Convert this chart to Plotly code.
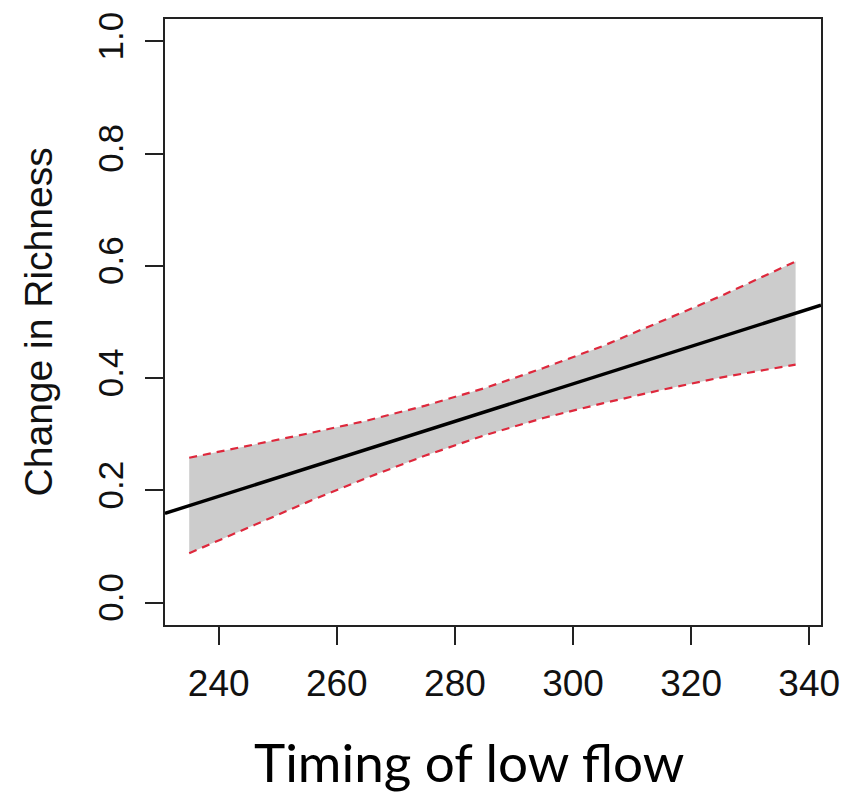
import plotly.graph_objects as go

# Data
band_x = [235, 245, 255, 265, 275, 285, 295, 305, 315, 325, 337.7]
band_upper = [0.258, 0.279, 0.301, 0.324, 0.351, 0.382, 0.418, 0.457, 0.501, 0.546, 0.608]
band_lower = [0.088, 0.134, 0.179, 0.222, 0.262, 0.298, 0.329, 0.355, 0.379, 0.401, 0.424]
fit_x = [230.9, 342.0]
fit_y = [0.159, 0.530]

x_ticks = [240, 260, 280, 300, 320, 340]
y_ticks = [0.0, 0.2, 0.4, 0.6, 0.8, 1.0]
y_ticklabels = ["0.0", "0.2", "0.4", "0.6", "0.8", "1.0"]

x_range = [230.9, 342.0]
y_range = [-0.04, 1.04]

fig = go.Figure()
fig.add_trace(go.Scatter(x=band_x, y=band_lower, mode="lines",
                         line=dict(width=0, color="rgba(0,0,0,0)"),
                         showlegend=False, hoverinfo="skip"))
fig.add_trace(go.Scatter(x=band_x, y=band_upper, mode="lines",
                         line=dict(width=0, color="rgba(0,0,0,0)"),
                         fill="tonexty", fillcolor="rgb(204,204,204)",
                         showlegend=False, hoverinfo="skip"))
fig.add_trace(go.Scatter(x=band_x, y=band_upper, mode="lines",
                         line=dict(width=2.2, color="rgb(222,40,60)", dash="8px,6px"),
                         showlegend=False))
fig.add_trace(go.Scatter(x=band_x, y=band_lower, mode="lines",
                         line=dict(width=2.2, color="rgb(222,40,60)", dash="8px,6px"),
                         showlegend=False))
fig.add_trace(go.Scatter(x=fit_x, y=fit_y, mode="lines",
                         line=dict(width=3.4, color="black"),
                         showlegend=False))

x_tick_font = dict(family="Liberation Sans, Arial, sans-serif", size=37, color="#111")
y_tick_font = dict(family="Liberation Sans, Arial, sans-serif", size=35, color="#111")

fig.update_xaxes(range=x_range, tickvals=x_ticks, ticks="outside", ticklen=18,
                 tickwidth=1.5, tickcolor="#222", showline=True, linecolor="#222",
                 linewidth=2, mirror=True, showgrid=False, zeroline=False,
                 tickfont=x_tick_font, ticklabelstandoff=7)
fig.update_yaxes(range=y_range, tickvals=y_ticks, ticktext=y_ticklabels,
                 ticks="outside", ticklen=18, tickwidth=1.5, tickcolor="#222",
                 showline=True, linecolor="#222", linewidth=2, mirror=True,
                 showgrid=False, zeroline=False, tickangle=-90,
                 tickfont=y_tick_font, ticklabelstandoff=8)

fig.add_annotation(text="Change in Richness", xref="paper", yref="paper",
                   x=-0.193, y=0.5, xanchor="center", yanchor="middle",
                   textangle=-90, showarrow=False,
                   font=dict(family="Liberation Sans, Arial, sans-serif", size=39, color="#111"))
fig.add_annotation(text="Timing of low flow", xref="paper", yref="paper",
                   x=0.463, y=-0.2246, xanchor="center", yanchor="middle",
                   showarrow=False,
                   font=dict(family="Lato, sans-serif", size=53, color="#000"))

fig.update_layout(width=852, height=796,
                  margin=dict(l=165, r=24, t=15, b=171),
                  plot_bgcolor="white", paper_bgcolor="white")

fig.write_html("out.html")
